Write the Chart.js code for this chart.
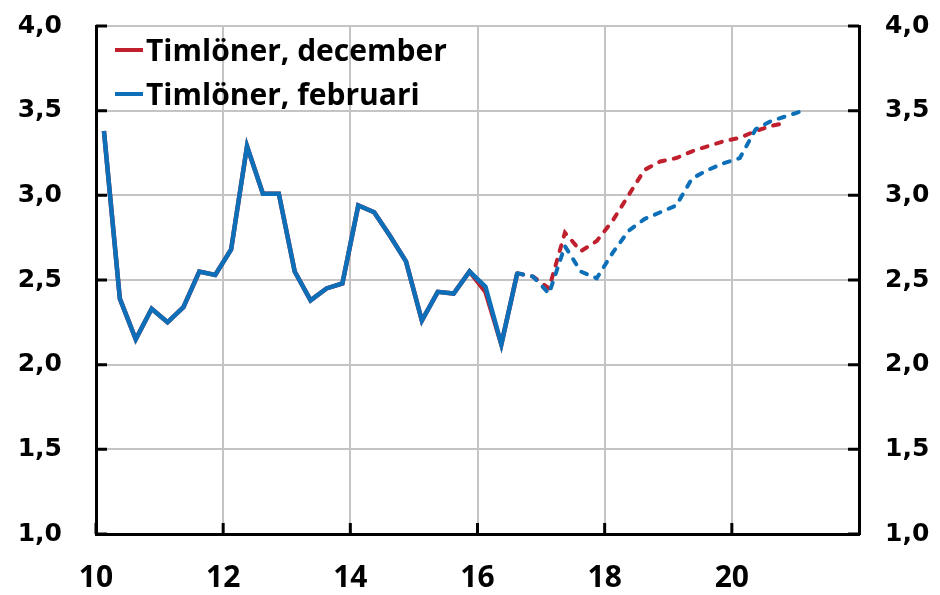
<!DOCTYPE html>
<html>
<head>
<meta charset="utf-8">
<script src="https://cdn.jsdelivr.net/npm/chart.js@4/dist/chart.umd.min.js"></script>
<style>
  html, body { margin: 0; padding: 0; background: #fff; }
  #wrap { width: 940px; height: 595px; }
</style>
</head>
<body>
<div id="wrap"><canvas id="wageChart" width="940" height="595"></canvas></div>
<script>
// quarter midpoints (year - 2000), Q1 2010 .. Q1 2021
const quarters = [
  10.125, 10.375, 10.625, 10.875, 11.125, 11.375, 11.625, 11.875,
  12.125, 12.375, 12.625, 12.875, 13.125, 13.375, 13.625, 13.875,
  14.125, 14.375, 14.625, 14.875, 15.125, 15.375, 15.625, 15.875,
  16.125, 16.375, 16.625, 16.875, 17.125, 17.375, 17.625, 17.875,
  18.125, 18.375, 18.625, 18.875, 19.125, 19.375, 19.625, 19.875,
  20.125, 20.375, 20.625, 20.875, 21.125
];

// Timlöner, december (ends Q4 2020)
const wagesDecember = [
  3.38, 2.39, 2.15, 2.33, 2.25, 2.34, 2.55, 2.53,
  2.68, 3.29, 3.01, 3.01, 2.55, 2.38, 2.45, 2.48,
  2.94, 2.90, 2.76, 2.61, 2.26, 2.43, 2.42, 2.55,
  2.43, 2.12, 2.54, 2.52, 2.45, 2.78, 2.67, 2.73,
  2.85, 3.00, 3.15, 3.20, 3.22, 3.26, 3.29, 3.32,
  3.34, 3.38, 3.41, 3.43
];

// Timlöner, februari (ends Q1 2021)
const wagesFebruary = [
  3.38, 2.39, 2.15, 2.33, 2.25, 2.34, 2.55, 2.53,
  2.68, 3.29, 3.01, 3.01, 2.55, 2.38, 2.45, 2.48,
  2.94, 2.90, 2.76, 2.61, 2.26, 2.43, 2.42, 2.55,
  2.46, 2.12, 2.54, 2.52, 2.42, 2.70, 2.55, 2.51,
  2.66, 2.79, 2.86, 2.90, 2.94, 3.10, 3.15, 3.19,
  3.22, 3.39, 3.44, 3.47, 3.50
];

const forecastStart = 16.625;   // dashed from here on
const yTicks = [1.0, 1.5, 2.0, 2.5, 3.0, 3.5, 4.0];
const xTicks = [10, 12, 14, 16, 18, 20];

const RED = '#c0202e';
const BLUE = '#0d6fb8';

function toPoints(values) {
    return values.map((v, i) => ({ x: quarters[i], y: v }));
}

function commaFmt(v) {
    return Number(v).toFixed(1).replace('.', ',');
}

const isForecast = ctx => ctx.p0.parsed.x >= forecastStart;
const dashSegment = {
    borderDash: ctx => isForecast(ctx) ? [6, 9] : undefined,
    borderWidth: ctx => isForecast(ctx) ? 4 : undefined,
    borderCapStyle: ctx => isForecast(ctx) ? 'round' : undefined,
};

// fixed axis width, and no extra padding from tick label overflow
const fixWidth = w => s => { s.width = w; s.paddingTop = 0; s.paddingBottom = 0; };

// short black ticks pointing into the plot, and the legend inside the plot
const innerBits = {
    id: 'innerBits',
    afterDraw(chart) {
        const { ctx, chartArea: a, scales } = chart;
        ctx.save();
        ctx.strokeStyle = '#000';
        ctx.lineWidth = 3;
        ctx.beginPath();
        yTicks.forEach(v => {
            const y = scales.y.getPixelForValue(v);
            ctx.moveTo(a.left, y); ctx.lineTo(a.left + 11, y);
            ctx.moveTo(a.right - 11, y); ctx.lineTo(a.right, y);
        });
        xTicks.forEach(v => {
            const x = scales.x.getPixelForValue(v);
            ctx.moveTo(x, a.bottom); ctx.lineTo(x, a.bottom - 11);
        });
        ctx.stroke();

        // legend
        const items = [
            { label: 'Timlöner, december', color: RED },
            { label: 'Timlöner, februari', color: BLUE },
        ];
        ctx.font = 'bold 30px "Open Sans"';
        ctx.textBaseline = 'alphabetic';
        ctx.textAlign = 'left';
        items.forEach((it, i) => {
            const cy = a.top + 24 + i * 44;
            ctx.strokeStyle = it.color;
            ctx.lineWidth = 4;
            ctx.beginPath();
            ctx.moveTo(a.left + 19, cy);
            ctx.lineTo(a.left + 47, cy);
            ctx.stroke();
            ctx.fillStyle = '#000';
            ctx.fillText(it.label, a.left + 50, cy + 11);
        });
        ctx.restore();
    }
};

new Chart(document.getElementById('wageChart'), {
    type: 'line',
    data: {
        datasets: [
            {
                label: 'Timlöner, december',
                data: toPoints(wagesDecember),
                borderColor: RED,
                borderWidth: 4.5,
                pointRadius: 0,
                tension: 0,
                order: 2,
                segment: dashSegment,
            },
            {
                label: 'Timlöner, februari',
                data: toPoints(wagesFebruary),
                borderColor: BLUE,
                borderWidth: 4.5,
                pointRadius: 0,
                tension: 0,
                order: 1,
                segment: dashSegment,
            },
        ],
    },
    options: {
        responsive: false,
        animation: false,
        layout: { padding: { top: 26, left: 0, right: 0, bottom: 0 } },
        plugins: {
            legend: { display: false },
            tooltip: { enabled: false },
        },
        scales: {
            x: {
                type: 'linear',
                min: 10, max: 22,
                afterFit: s => { s.height = 61; s.paddingLeft = 0; s.paddingRight = 0; },
                afterBuildTicks: s => { s.ticks = [10, 12, 14, 16, 18, 20, 22].map(v => ({ value: v })); },
                ticks: {
                    color: '#000',
                    font: { family: 'Open Sans', size: 30, weight: 'bold' },
                    padding: 26,
                    maxRotation: 0,
                    autoSkip: false,
                    callback: v => v === 22 ? '' : String(v),
                },
                grid: { color: '#c4c4c4', lineWidth: 2, drawTicks: false },
                border: { color: '#000', width: 3 },
            },
            y: {
                position: 'left',
                min: 1, max: 4,
                afterFit: fixWidth(96),
                afterBuildTicks: s => { s.ticks = yTicks.map(v => ({ value: v })); },
                ticks: {
                    color: '#000',
                    font: { family: 'DejaVu Sans', size: 25, weight: 'bold' },
                    padding: 34,
                    callback: commaFmt,
                },
                grid: { color: '#c4c4c4', lineWidth: 2, drawTicks: false },
                border: { color: '#000', width: 3 },
            },
            y2: {
                position: 'right',
                min: 1, max: 4,
                afterFit: fixWidth(81),
                afterBuildTicks: s => { s.ticks = yTicks.map(v => ({ value: v })); },
                ticks: {
                    color: '#000',
                    font: { family: 'DejaVu Sans', size: 25, weight: 'bold' },
                    padding: 26,
                    callback: commaFmt,
                },
                grid: { drawOnChartArea: false, drawTicks: false },
                border: { color: '#000', width: 3 },
            },
        },
    },
    plugins: [innerBits],
});
</script>
</body>
</html>
